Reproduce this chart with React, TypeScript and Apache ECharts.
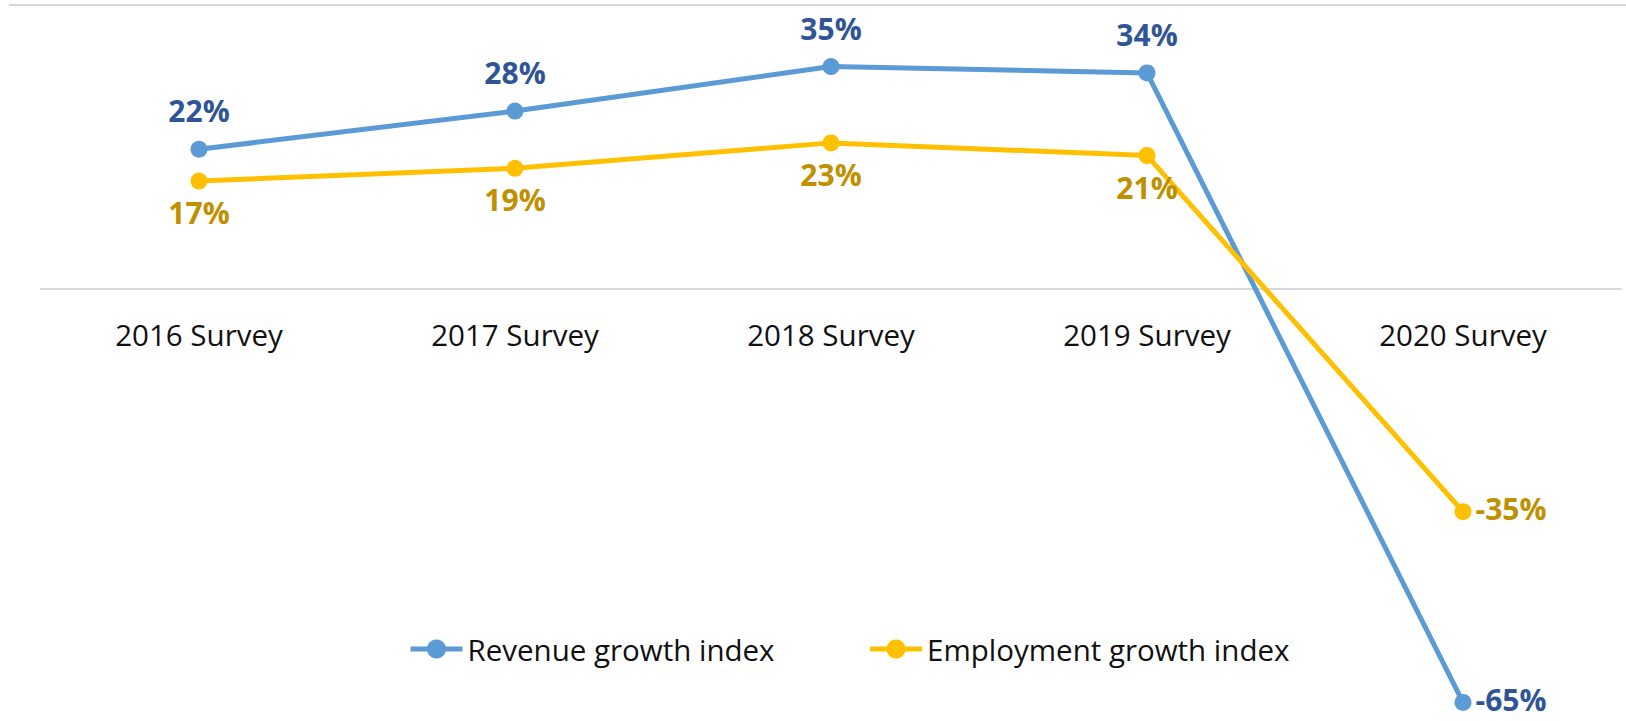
import React, { useEffect, useRef } from "react";
import * as echarts from "echarts";

const categories = ["2016 Survey", "2017 Survey", "2018 Survey", "2019 Survey", "2020 Survey"];
const revenueGrowth = [22, 28, 35, 34, -65];
const employmentGrowth = [17, 19, 23, 21, -35];
const seriesNames = ["Revenue growth index", "Employment growth index"];

const FONT = "'Open Sans', 'Noto Sans', sans-serif";

const Y_MIN = -65;
const Y_MAX = 45;
const GRID_TOP = 3;
const GRID_BOTTOM = 18.6;
const HEIGHT = 721;

export default function App() {
  const ref = useRef<HTMLDivElement>(null);
  useEffect(() => {
    if (!ref.current) return;
    const chart = echarts.init(ref.current, null, { renderer: "svg" });
    const lastIdx = categories.length - 1;
    const mkData = (arr: number[]) =>
      arr.map((v, i) =>
        i === lastIdx
          ? { value: v, label: { position: "right", distance: 4, offset: [0, -3] } }
          : v
      );
    // pixel offset from grid bottom to the zero line (axis placed at y = 0)
    const gridH = HEIGHT - GRID_TOP - GRID_BOTTOM;
    const zeroOffset = (gridH * (0 - Y_MIN)) / (Y_MAX - Y_MIN);
    chart.setOption({
      animation: false,
      backgroundColor: "#ffffff",
      textStyle: { fontFamily: FONT },
      grid: {
        left: 41,
        right: 5,
        top: GRID_TOP,
        bottom: GRID_BOTTOM,
        containLabel: false,
        outerBoundsMode: "none",
      },
      legend: {
        left: 403,
        top: 629,
        itemWidth: 52,
        itemHeight: 24,
        itemGap: 93,
        lineStyle: { width: 5 },
        textStyle: { fontSize: 29.5, color: "#111111", fontFamily: FONT },
        data: seriesNames,
      },
      xAxis: {
        type: "category",
        data: categories,
        boundaryGap: true,
        offset: -zeroOffset,
        axisLine: { show: true, onZero: false, lineStyle: { color: "#d9d9d9", width: 2 } },
        axisTick: { show: false },
        axisLabel: { fontSize: 29.5, color: "#111111", margin: 30, fontFamily: FONT },
        splitLine: { show: false },
      },
      yAxis: {
        type: "value",
        min: Y_MIN,
        max: Y_MAX,
        show: false,
        splitLine: { show: false },
      },
      graphic: [
        {
          type: "line",
          shape: { x1: 9, y1: 5, x2: 1626, y2: 5 },
          style: { stroke: "#c8c8c8", lineWidth: 1.5 },
          silent: true,
        },
      ],
      series: [
        {
          name: seriesNames[0],
          type: "line",
          data: mkData(revenueGrowth),
          clip: false,
          symbol: "circle",
          symbolSize: 17,
          color: "#5B9BD5",
          lineStyle: { color: "#5B9BD5", width: 5 },
          itemStyle: { color: "#5B9BD5" },
          label: {
            show: true,
            position: "top",
            distance: 15,
            formatter: "{c}%",
            fontSize: 30,
            fontWeight: "bold",
            color: "#2F5597",
            fontFamily: FONT,
          },
        },
        {
          name: seriesNames[1],
          type: "line",
          data: mkData(employmentGrowth),
          clip: false,
          symbol: "circle",
          symbolSize: 17,
          color: "#FFC000",
          lineStyle: { color: "#FFC000", width: 5 },
          itemStyle: { color: "#FFC000" },
          label: {
            show: true,
            position: "bottom",
            distance: 8,
            formatter: "{c}%",
            fontSize: 30,
            fontWeight: "bold",
            color: "#BF9000",
            fontFamily: FONT,
          },
        },
      ],
    });
    return () => chart.dispose();
  }, []);
  return (
    <div
      ref={ref}
      style={{ position: "fixed", left: 0, top: 0, width: 1626, height: HEIGHT, background: "#fff" }}
    />
  );
}
